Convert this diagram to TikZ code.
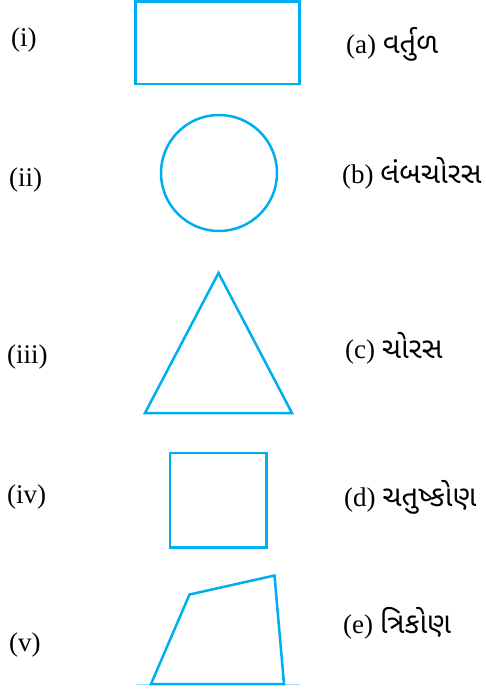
\documentclass[tikz,border=0pt]{standalone}
\usepackage{fontspec}
\setmainfont{Liberation Serif}
\newfontfamily\gujfont[Script=Gujarati,Scale=1.08]{Noto Sans Gujarati UI}
\definecolor{shapecyan}{RGB}{0,174,239}
\definecolor{faintcyan}{RGB}{160,220,245}
\begin{document}
\begin{tikzpicture}[x=1pt,y=-1pt,
  shp/.style={draw=shapecyan,line width=2.5pt,line join=miter},
  lbl/.style={anchor=west,inner sep=0pt,font=\fontsize{27}{30}\selectfont},
  ans/.style={anchor=west,inner sep=0pt,font=\fontsize{27}{30}\selectfont}]
\useasboundingbox (0,0) rectangle (485,694);
% shapes
\draw[shp] (135.5,1.5) rectangle (299.5,84);
\node[shp,circle,minimum size=116pt,inner sep=0pt] (circ) at (219,173) {};
\coordinate (t1) at (218.5,273);
\coordinate (t2) at (145,413);
\coordinate (t3) at (292,413);
\draw[shp] (t1) -- (t2) -- (t3) -- cycle;
\draw[shp] (170,453) rectangle (266.5,547.5);
\draw[faintcyan,line width=0.8pt] (136,684.5) -- (300,684.5);
\coordinate (q1) at (151,684);
\coordinate (q2) at (189.5,594.5);
\coordinate (q3) at (274.5,575.5);
\coordinate (q4) at (284,684);
\draw[shp] (q1) -- (q2) -- (q3) -- (q4) -- cycle;
% left labels
\node[lbl] (l1) at (11,40) {(i)};
\node[lbl] (l2) at (9,180) {(ii)};
\node[lbl] (l3) at (7,357) {(iii)};
\node[lbl] (l4) at (7,497) {(iv)};
\node[lbl] (l5) at (9,645) {(v)};
% right labels
\node[ans] (a) at (346,44) {(a) {\gujfont વર્તુળ}};
\node[ans] (b) at (342,173) {(b) {\gujfont લંબચોરસ}};
\node[ans] (c) at (345,348) {(c) {\gujfont ચોરસ}};
\node[ans] (d) at (344,497) {(d) {\gujfont ચતુષ્કોણ}};
\node[ans] (e) at (343,623) {(e) {\gujfont ત્રિકોણ}};
\end{tikzpicture}
\end{document}
